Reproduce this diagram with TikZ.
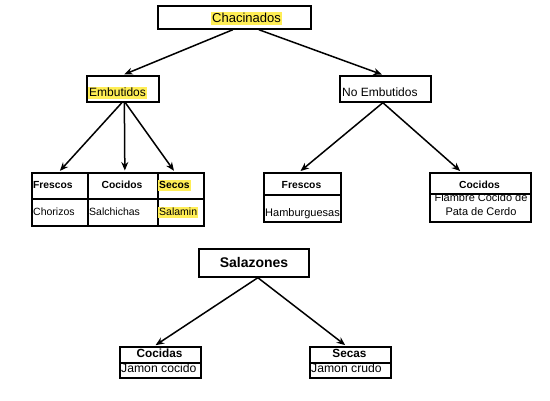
\documentclass[tikz,border=0pt]{standalone}
\usepackage{fontspec}
\setmainfont{Liberation Sans}
\usetikzlibrary{arrows.meta}
\definecolor{hl}{RGB}{255,238,85}
\begin{document}
\begin{tikzpicture}[x=1pt,y=-1pt,
  box/.style={draw, line width=1.7pt, inner sep=0pt, anchor=north west},
  txt/.style={inner sep=0pt, anchor=base west},
  ctxt/.style={inner sep=0pt, anchor=base},
  hlt/.style={fill=hl, inner xsep=1pt, inner ysep=0.8pt, text depth=2pt},
  arr/.style={line width=1.5pt, shorten >=1.5pt, -{Stealth[length=8.5pt,width=7pt]}},
  fbig/.style={font=\fontsize{13}{15}\selectfont},
  fmid/.style={font=\fontsize{12}{14}\selectfont},
  fhead/.style={font=\bfseries\fontsize{10.3}{12}\selectfont},
  fbody/.style={font=\fontsize{10.5}{12}\selectfont},
  fbody2/.style={font=\fontsize{11}{13}\selectfont}]
\useasboundingbox (0,0) rectangle (550,400);
% top level
\node[box, minimum width=153pt, minimum height=23pt] (cha) at (157,5) {};
\node[txt, fbig, hlt] (chat) at (211,22) {Chacinados};
% second level
\node[box, minimum width=72pt, minimum height=26pt] (emb) at (86,75) {};
\node[txt, fmid, hlt] (embt) at (88,96) {Embutidos};
\node[box, minimum width=91pt, minimum height=26pt] (noemb) at (339,75) {};
\node[txt, fmid] (noembt) at (342,96) {No Embutidos};
% Embutidos table
\node[box, minimum width=56pt, minimum height=26pt] (e1h) at (31,172) {};
\node[box, minimum width=56pt, minimum height=27pt] (e1b) at (31,198) {};
\node[box, minimum width=70pt, minimum height=26pt] (e2h) at (87,172) {};
\node[box, minimum width=70pt, minimum height=27pt] (e2b) at (87,198) {};
\node[box, minimum width=46pt, minimum height=26pt] (e3h) at (157,172) {};
\node[box, minimum width=46pt, minimum height=27pt] (e3b) at (157,198) {};
\node[txt, fhead] (e1ht) at (33,188) {Frescos};
\node[ctxt, fhead] (e2ht) at (122,188) {Cocidos};
\node[txt, fhead, hlt] (e3ht) at (158,188) {Secos};
\node[txt, fbody] (e1bt) at (33,215) {Chorizos};
\node[txt, fbody] (e2bt) at (89,215) {Salchichas};
\node[txt, fbody, hlt] (e3bt) at (158,215) {Salamin};
% No Embutidos tables
\node[box, minimum width=77pt, minimum height=22pt] (nfh) at (263,172) {};
\node[box, minimum width=77pt, minimum height=27pt] (nfb) at (263,194) {};
\node[ctxt, fhead] (nfht) at (301.5,188) {Frescos};
\node[txt, fbody2] (nfbt) at (265,216) {Hamburguesas};
\node[box, minimum width=101pt, minimum height=21pt] (nch) at (429,172) {};
\node[box, minimum width=101pt, minimum height=28pt] (ncb) at (429,193) {};
\node[ctxt, fhead] (ncht) at (479.5,188) {Cocidos};
\node[ctxt, fbody2] (ncb1) at (481,201) {Flambre Cocido de};
\node[ctxt, fbody2] (ncb2) at (481,215) {Pata de Cerdo};
% Salazones
\node[box, minimum width=110pt, minimum height=28pt] (sal) at (198,248) {};
\node[ctxt, font=\bfseries\fontsize{14}{16}\selectfont] (salt) at (254,267) {Salazones};
\node[box, minimum width=81pt, minimum height=16pt] (cch) at (119,346) {};
\node[box, minimum width=81pt, minimum height=15pt] (ccb) at (119,362) {};
\node[ctxt, font=\bfseries\fontsize{11.8}{13}\selectfont] (ccht) at (159.5,357) {Cocidas};
\node[txt, font=\fontsize{12.2}{14}\selectfont] (ccbt) at (121,372) {Jamon cocido};
\node[box, minimum width=81pt, minimum height=16pt] (sch) at (309,346) {};
\node[box, minimum width=81pt, minimum height=15pt] (scb) at (309,362) {};
\node[ctxt, font=\bfseries\fontsize{11.8}{13}\selectfont] (scht) at (349.5,357) {Secas};
\node[txt, font=\fontsize{12.2}{14}\selectfont] (scbt) at (311,372) {Jamon crudo};
% connectors
\draw[arr] ([xshift=-1.5pt]cha.south) -- (emb.north);
\draw[arr] ([xshift=24.5pt]cha.south) -- ([xshift=-2pt]noemb.north);
\draw[arr] ([xshift=-1pt]emb.south) -- ([xshift=-1pt]e1h.north);
\draw[arr] ([xshift=1.5pt]emb.south) -- ([xshift=2pt]e2h.north);
\draw[arr] ([xshift=2.5pt]emb.south) -- ([xshift=-6pt]e3h.north);
\draw[arr] ([xshift=-2.5pt]noemb.south) -- ([xshift=-3pt]nfh.north);
\draw[arr] ([xshift=-2.5pt]noemb.south) -- ([xshift=-19pt]nch.north);
\draw[arr] ([xshift=4pt]sal.south) -- ([xshift=-6pt]cch.north);
\draw[arr] ([xshift=4pt]sal.south) -- ([xshift=-4pt]sch.north);
\end{tikzpicture}
\end{document}
